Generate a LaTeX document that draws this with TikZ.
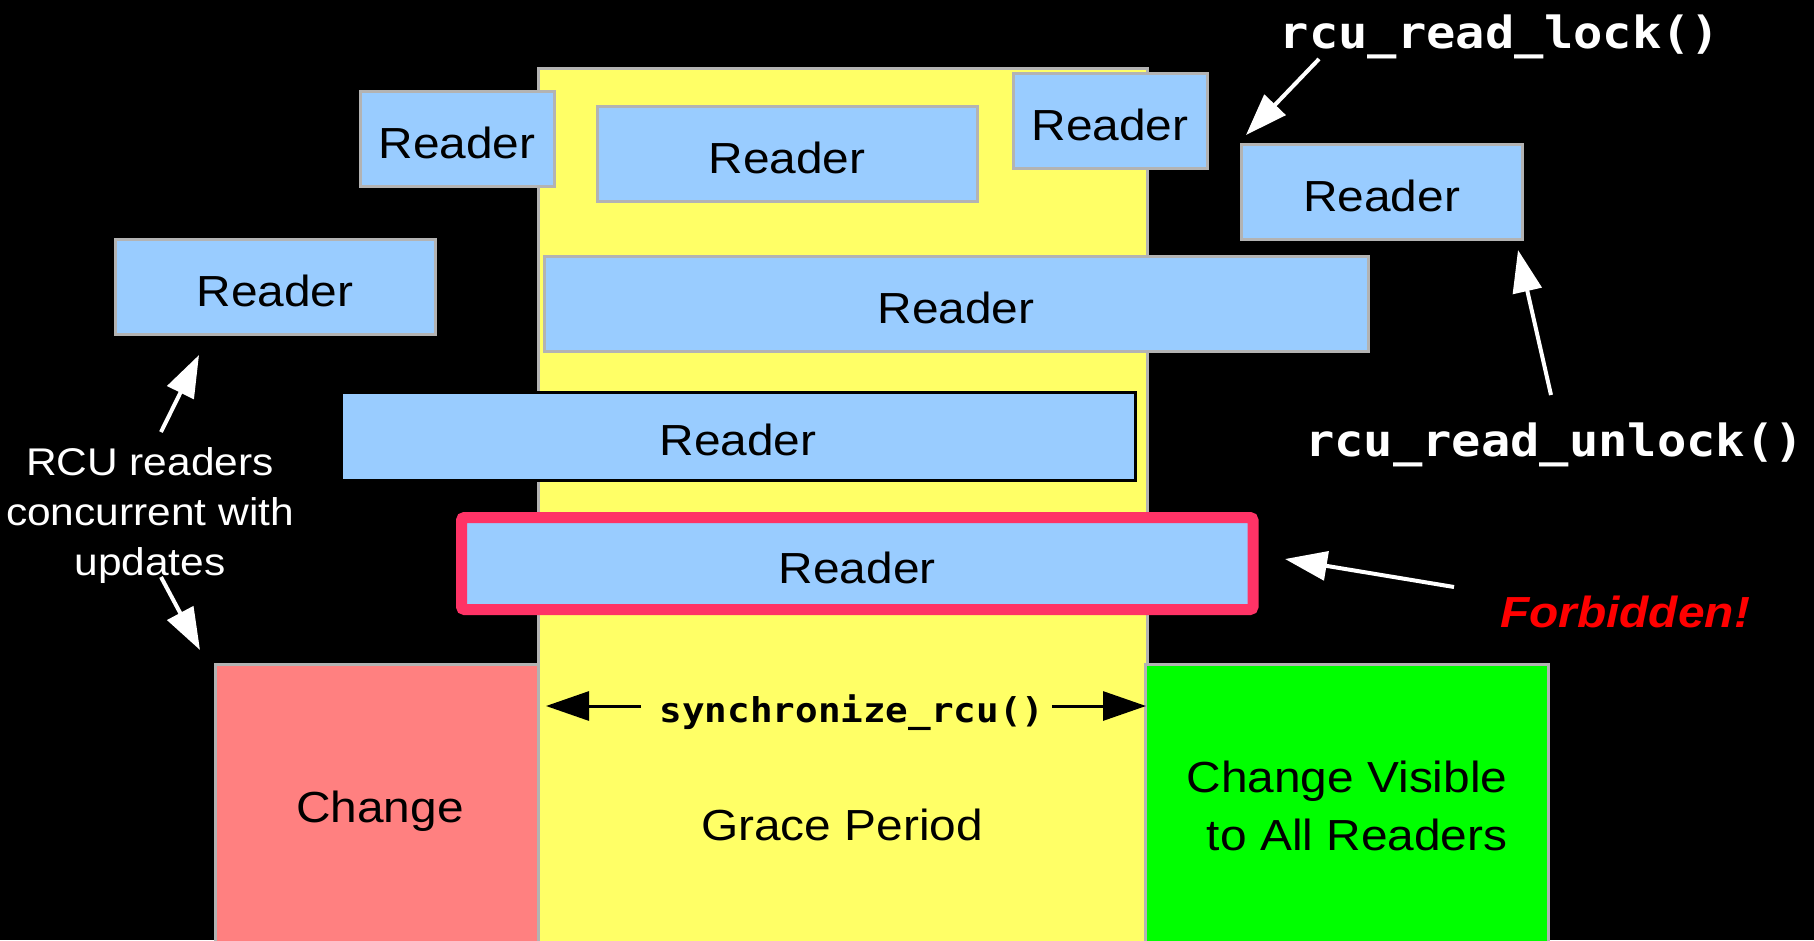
\documentclass[tikz,border=0pt]{standalone}
\usepackage{fontspec}
\setmainfont{Liberation Sans}[FakeStretch=1.1]
\setmonofont{DejaVu Sans Mono}[FakeStretch=1.1]
\usetikzlibrary{arrows.meta}
\definecolor{readerblue}{HTML}{99CCFF}
\definecolor{boxgray}{HTML}{B3B3B3}
\definecolor{graceyellow}{HTML}{FFFF66}
\definecolor{changepink}{HTML}{FF8080}
\definecolor{visgreen}{HTML}{00FF00}
\definecolor{forbidred}{HTML}{FF3366}
\newcommand\bigsans{\fontsize{43.5pt}{58pt}\selectfont}
\newcommand\smallsans{\fontsize{38.6pt}{50pt}\selectfont}
\newcommand\lockmono{\fontsize{44.3pt}{53pt}\selectfont\ttfamily\bfseries}
\newcommand\syncmono{\fontsize{34.2pt}{41pt}\selectfont\ttfamily\bfseries}
\tikzset{
  area/.style={draw=boxgray, line width=3pt, inner sep=0pt, outer sep=0pt},
  reader/.style={area, fill=readerblue, font=\bigsans, text=black,
    minimum height=95pt, text height=39pt, text depth=0pt},
  lbl/.style={inner sep=0pt, outer sep=0pt, font=\bigsans, text=black},
  wlbl/.style={lbl, text=white},
  warrow/.style={draw=white, line width=4pt, -{Triangle[length=42pt,width=29pt]}, fill=white},
  barrow/.style={draw=black, line width=3pt, -{Triangle[length=43pt,width=29pt]}, fill=black}
}
\begin{document}
\begin{tikzpicture}[x=1pt,y=-1pt]
\useasboundingbox (0,0) rectangle (1814,940);
\fill[black] (0,0) rectangle (1814,940);

% grace period, change, visible
\node[area, fill=graceyellow, minimum width=609pt, minimum height=876pt] (gp) at (842.5,506) {};
\node[area, fill=changepink, minimum width=323pt, minimum height=280pt] (chg) at (376.5,804) {};
\node[area, fill=visgreen, minimum width=403pt, minimum height=280pt] (vis) at (1346.5,804) {};

\node[lbl, anchor=base] (chgtxt) at (380,822) {Change};
\node[lbl, anchor=base] (gptxt) at (842,840) {Grace Period};
\node[lbl, anchor=base, align=right] (vistxt) at (1347,850) {Change Visible\\to All Readers};

% readers
\node[reader, minimum width=194pt] (rA) at (457,138.5) {Reader};
\node[reader, minimum width=380pt] (rB) at (787,153.5) {Reader};
\node[reader, minimum width=194pt] (rC) at (1110,120.5) {Reader};
\node[reader, minimum width=281pt] (rD) at (1381.5,191.5) {Reader};
\node[reader, minimum width=320pt] (rE) at (275,286.5) {Reader};
\node[reader, minimum width=824pt] (rF) at (956,303.5) {Reader};
\node[reader, draw=black, minimum width=794pt, minimum height=88pt] (rG) at (738,436) {Reader};
\node[reader, draw=forbidred, line width=11pt, rounded corners=3pt, minimum width=791.5pt, minimum height=92pt] (rH) at (857.25,563.5) {Reader};

% labels
\node[wlbl, font=\lockmono, anchor=base] (lock) at (1500,48) {rcu\_read\_lock()};
\node[wlbl, font=\lockmono, anchor=base] (unlock) at (1554.5,456) {rcu\_read\_unlock()};
\node[lbl, font=\syncmono, anchor=base] (sync) at (852,722) {synchronize\_rcu()};
\node[wlbl, font=\smallsans, anchor=base, align=center] (concur) at (150,575) {RCU readers\\concurrent with\\updates};
\node[lbl, text=red, font=\bigsans\bfseries\itshape, anchor=base] (forbid) at (1625,627) {Forbidden!};

% arrow ends
\coordinate (lockS) at (1319,59);   \coordinate (lockE) at (1246,135);
\coordinate (unlS) at (1551,395);   \coordinate (unlE) at (1518,250);
\coordinate (forS) at (1454,587);   \coordinate (forE) at (1285,559);
\coordinate (upS) at (161,432);     \coordinate (upE) at (199,355);
\coordinate (dnS) at (161,577);     \coordinate (dnE) at (200,650);
\coordinate (syL) at (641,706);     \coordinate (syLE) at (546,706);
\coordinate (syR) at (1052,706);    \coordinate (syRE) at (1146,706);

\draw[warrow] (lockS) -- (lockE);
\draw[warrow] (unlS) -- (unlE);
\draw[warrow] (forS) -- (forE);
\draw[warrow] (upS) -- (upE);
\draw[warrow] (dnS) -- (dnE);
\draw[barrow] (syL) -- (syLE);
\draw[barrow] (syR) -- (syRE);
\end{tikzpicture}
\end{document}
